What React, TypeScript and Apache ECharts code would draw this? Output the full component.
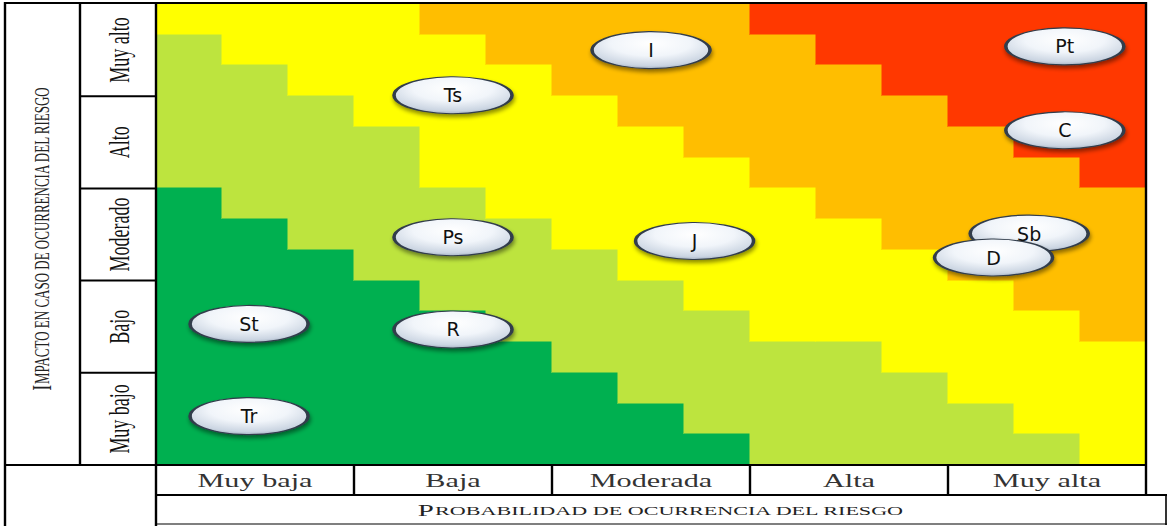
import React, { useEffect, useRef } from "react";
import * as echarts from "echarts";

// Axis tick labels (5 categories each)
const probabilityLabels = ["Muy baja", "Baja", "Moderada", "Alta", "Muy alta"];
const impactLabels = ["Muy bajo", "Bajo", "Moderado", "Alto", "Muy alto"];
const xTitleParts = ["P", "ROBABILIDAD DE OCURRENCIA DEL RIESGO"];
const yTitleParts = ["I", "MPACTO EN CASO DE OCURRENCIA DEL RIESGO"];

// Risk zones on a 15 x 15 sub-grid (3 sub-steps per category).
// For each sub-column (left to right): number of rows from the top belonging to each zone (cumulative).
const redRows = [0, 0, 0, 0, 0, 0, 0, 0, 0, 1, 2, 3, 4, 5, 6];
const orangeRows = [0, 0, 0, 0, 1, 2, 3, 4, 5, 6, 7, 8, 9, 10, 11];
const yellowRows = [1, 2, 3, 4, 6, 7, 8, 9, 10, 11, 11, 12, 13, 14, 15];
const lightGreenRows = [6, 7, 8, 9, 10, 11, 12, 13, 14, 15, 15, 15, 15, 15, 15];
const zoneColors = ["#00B050", "#BDE43E", "#FFFF00", "#FFBE00", "#FF3800"];

// Risks (probability, impact) on a 0..5 scale
const riskNames = ["I", "Pt", "Ts", "C", "Ps", "J", "Sb", "D", "St", "R", "Tr"];
const riskProbability = [2.5, 4.59, 1.5, 4.59, 1.5, 2.72, 4.41, 4.23, 0.47, 1.5, 0.47];
const riskImpact = [4.5, 4.54, 4.01, 3.63, 2.47, 2.43, 2.51, 2.25, 1.53, 1.47, 0.53];

const SUB = 3;
const N = 15;

function buildCells() {
  const cells: number[][] = [];
  for (let c = 0; c < N; c++) {
    for (let r = 0; r < N; r++) {
      const lvl =
        r < redRows[c] ? 4 : r < orangeRows[c] ? 3 : r < yellowRows[c] ? 2 : r < lightGreenRows[c] ? 1 : 0;
      cells.push([c, r, lvl]);
    }
  }
  return cells;
}

export default function App() {
  const ref = useRef<HTMLDivElement>(null);

  useEffect(() => {
    if (!ref.current) return;
    const chart = echarts.init(ref.current, undefined, { renderer: "svg" });

    const bubbleFill = new echarts.graphic.RadialGradient(0.5, 0.32, 0.75, [
      { offset: 0, color: "#ffffff" },
      { offset: 0.45, color: "#f1f5fa" },
      { offset: 0.8, color: "#cbd5e2" },
      { offset: 1, color: "#8a98ab" },
    ]);

    chart.setOption({
      animation: false,
      backgroundColor: "#ffffff",
      grid: { left: 156, top: 4, width: 990, height: 461 },
      xAxis: { type: "value", min: 0, max: 5, interval: 1, show: false },
      yAxis: { type: "value", min: 0, max: 5, interval: 1, show: false },
      series: [
        {
          type: "custom",
          silent: true,
          data: buildCells(),
          encode: { x: 0, y: 1 },
          renderItem: (params: any, api: any) => {
            const c = api.value(0);
            const r = api.value(1);
            const lvl = api.value(2);
            const p0 = api.coord([c / SUB, 5 - r / SUB]);
            const p1 = api.coord([(c + 1) / SUB, 5 - (r + 1) / SUB]);
            const x0 = Math.round(p0[0]);
            const y0 = Math.round(p0[1]);
            const x1 = Math.round(p1[0]);
            const y1 = Math.round(p1[1]);
            const color = zoneColors[lvl];
            return {
              type: "rect",
              shape: { x: x0, y: y0, width: x1 - x0, height: y1 - y0 },
              style: { fill: color, stroke: color, lineWidth: 1 },
            };
          },
          z: 1,
        },
        {
          type: "scatter",
          z: 5,
          symbol: "circle",
          symbolSize: [118, 37],
          data: riskNames.map((n, i) => ({ name: n, value: [riskProbability[i], riskImpact[i]] })),
          itemStyle: {
            color: bubbleFill,
            borderColor: "#313c4b",
            borderWidth: 2,
            shadowBlur: 4,
            shadowColor: "rgba(0,0,0,0.45)",
            shadowOffsetX: 1,
            shadowOffsetY: 3,
            opacity: 1,
          },
          label: {
            show: true,
            position: "inside",
            formatter: "{b}",
            color: "#111",
            fontSize: 19,
            fontFamily: "DejaVu Sans",
          },
        },
      ],
    });

    const px = (v: number) => chart.convertToPixel({ xAxisIndex: 0 }, v) as number;
    const py = (v: number) => chart.convertToPixel({ yAxisIndex: 0 }, v) as number;
    const left = px(0);
    const right = px(5);
    const top = py(5);
    const bottom = py(0);
    const xOuter = 5;
    const xMid = 80;
    const topLine = 3;
    const catBottom = 495;
    const titleRight = 1166;
    const titleBottom = 524;
    const pageBottom = 526;

    const line = (x1: number, y1: number, x2: number, y2: number, w = 2) => ({
      type: "line",
      z: 100,
      silent: true,
      shape: { x1, y1, x2, y2 },
      style: { stroke: "#000", lineWidth: w },
    });

    const elements: any[] = [
      line(xOuter, topLine, right + 1, topLine),
      line(xOuter, topLine - 1, xOuter, pageBottom, 2.4),
      line(xMid, topLine - 1, xMid, bottom, 2.4),
      line(left, topLine - 1, left, pageBottom, 2.4),
      line(right, topLine - 1, right, catBottom + 1, 2.4),
      line(xOuter, bottom, right + 1, bottom),
      line(left, catBottom, titleRight + 1, catBottom),
      line(titleRight, catBottom - 1, titleRight, titleBottom + 1, 1.6),
      line(left, titleBottom, titleRight + 1, titleBottom, 1.2),
    ];
    for (let i = 1; i < 5; i++) {
      elements.push(line(px(i), bottom, px(i), catBottom, 2.4));
      elements.push(line(xMid, py(i), left, py(i)));
    }
    probabilityLabels.forEach((t, i) => {
      elements.push({
        type: "text",
        z: 101,
        x: px(i + 0.5),
        y: (bottom + catBottom) / 2 + 1,
        scaleX: 1.68,
        style: {
          text: t,
          fontSize: 18,
          fontFamily: "Liberation Serif",
          fill: "#333",
          align: "center",
          verticalAlign: "middle",
        },
      });
    });
    impactLabels.forEach((t, i) => {
      elements.push({
        type: "text",
        z: 101,
        x: (xMid + left) / 2 + 1,
        y: py(i + 0.5),
        rotation: Math.PI / 2,
        scaleY: 1.6,
        style: {
          text: t,
          fontSize: 18,
          fontFamily: "Liberation Serif",
          fill: "#111",
          align: "center",
          verticalAlign: "middle",
        },
      });
    });
    elements.push({
      type: "text",
      z: 101,
      x: (left + titleRight) / 2,
      y: (catBottom + titleBottom) / 2 + 1,
      scaleX: 1.7,
      style: {
        text: `{a|${xTitleParts[0]}}{b|${xTitleParts[1]}}`,
        rich: {
          a: { fontSize: 17, fontFamily: "Liberation Serif", fill: "#222" },
          b: { fontSize: 13, fontFamily: "Liberation Serif", fill: "#222" },
        },
        align: "center",
        verticalAlign: "middle",
      },
    });
    elements.push({
      type: "text",
      z: 101,
      x: (xOuter + xMid) / 2,
      y: (top + bottom) / 2 + 4,
      rotation: Math.PI / 2,
      scaleY: 1.6,
      style: {
        text: `{a|${yTitleParts[0]}}{b|${yTitleParts[1]}}`,
        rich: {
          a: { fontSize: 17, fontFamily: "Liberation Serif", fill: "#222" },
          b: { fontSize: 13, fontFamily: "Liberation Serif", fill: "#222" },
        },
        align: "center",
        verticalAlign: "middle",
      },
    });

    chart.setOption({ graphic: { elements } });

    return () => chart.dispose();
  }, []);

  return (
    <div
      ref={ref}
      style={{ position: "absolute", left: 0, top: 0, width: 1169, height: 526, background: "#fff" }}
    />
  );
}
